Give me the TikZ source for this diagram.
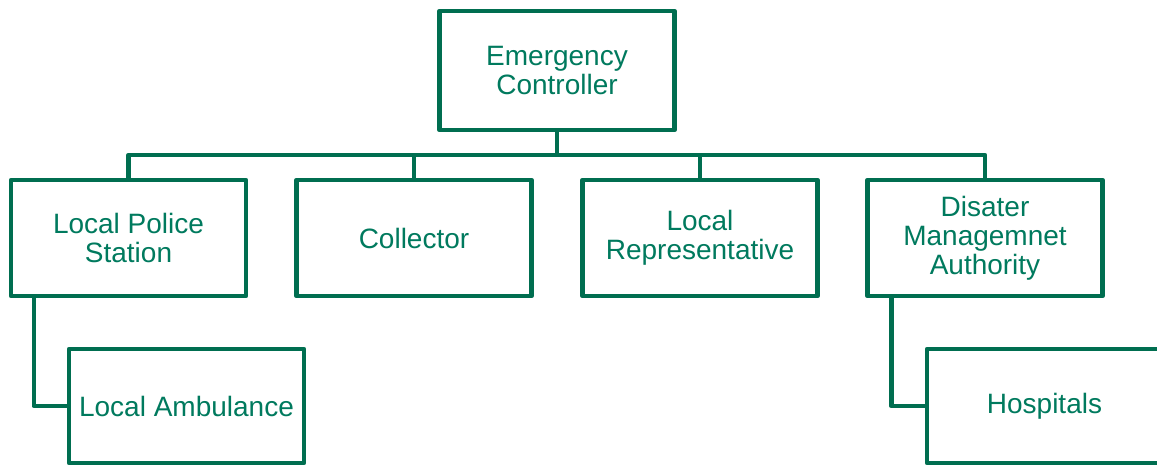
\documentclass[tikz,border=0pt]{standalone}
\usepackage{fontspec}
\setmainfont{Liberation Sans}
\definecolor{orggreen}{RGB}{0,110,80}
\definecolor{orgtext}{RGB}{0,122,94}
\begin{document}
\begin{tikzpicture}[x=1pt, y=1pt, line width=4.5pt, line join=round,
  unitbox/.style={draw=orggreen, fill=white, minimum width=235pt, minimum height=116pt,
    align=center, text=orgtext, font=\fontsize{28}{29}\selectfont, inner sep=0pt}]
\clip(0,0) rectangle (1157,-465);
\useasboundingbox(0,0) rectangle (1157,-465);

\node[unitbox, minimum height=119pt] (ec) at (557,-70.5) {Emergency\\Controller};
\node[unitbox] (lps) at (128.5,-238) {Local Police\\Station};
\node[unitbox] (col) at (414,-238) {Collector};
\node[unitbox] (lr) at (700,-238) {Local\\Representative};
\node[unitbox] (dma) at (985,-238) {Disater\\Managemnet\\Authority};
\node[unitbox, minimum height=114pt] (la) at (186.5,-406) {Local Ambulance};
\node[unitbox, minimum height=114pt] (hos) at (1044.5,-406) {Hospitals};

\coordinate (bus) at (557,-155);
\draw[orggreen](ec.south)--(bus);
\draw[orggreen](lps.north)--(lps.north |- bus)-|(dma.north);
\foreach \n in {col,lr}
{
    \draw[orggreen](bus -| \n.north)--(\n.north);
}
\draw[orggreen]([xshift=25pt]lps.south west)|-(la.west);
\draw[orggreen]([xshift=26pt]dma.south west)|-(hos.west);
\end{tikzpicture}
\end{document}
